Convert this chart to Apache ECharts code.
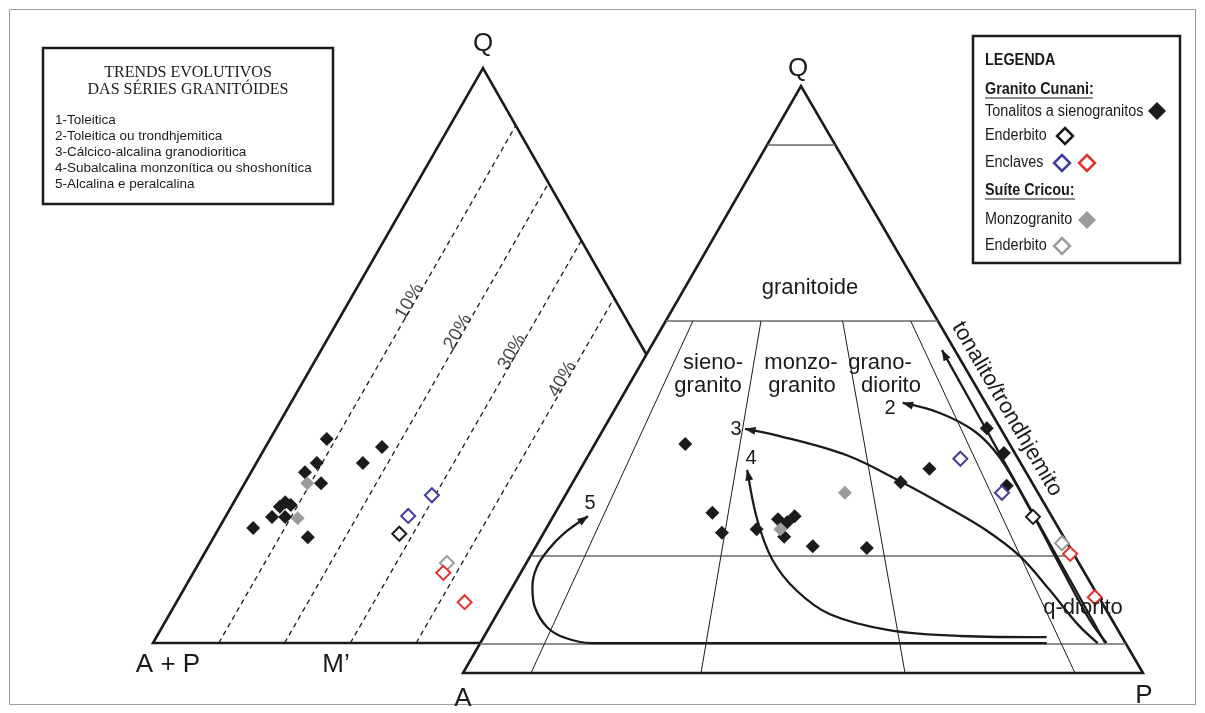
<!DOCTYPE html>
<html>
<head>
<meta charset="utf-8">
<script src="https://cdn.jsdelivr.net/npm/echarts@6/dist/echarts.min.js"></script>
<style>
  html, body { margin: 0; padding: 0; background: #fff; }
  #chart { width: 1205px; height: 713px; }
</style>
</head>
<body>
<div id="chart"></div>
<script>
// ---------- Modal compositions, QAP diagram: [Q, A, P] (%) ----------
const cunaniTonalitosQAP = [
  [39.0, 47.7, 13.3], [27.3, 49.6, 23.1], [23.9, 49.9, 26.2], [24.5, 44.5, 31.0],
  [26.2, 40.5, 33.3], [25.7, 39.4, 34.9], [26.7, 37.8, 35.5], [23.2, 41.1, 35.7],
  [21.6, 37.7, 40.7], [21.3, 29.9, 48.8], [32.5, 19.3, 48.2], [34.8, 13.9, 51.3],
  [41.7, 2.0, 56.3], [37.5, 1.6, 60.9], [31.9, 4.0, 64.1]
];
const cunaniEnderbitoQAP = [[26.6, 2.8, 70.6]];
const cunaniEnclavesBlueQAP = [[36.5, 8.5, 55.0], [30.7, 5.3, 64.0]];
const cunaniEnclavesRedQAP = [[20.3, 0.5, 79.2], [12.9, 0.6, 86.5]];
const cricouMonzogranitoQAP = [[30.7, 28.4, 40.9], [24.5, 41.0, 34.5]];
const cricouEnderbitoQAP = [[22.1, 0.8, 77.1]];

// ---------- Q - (A+P) - M' diagram: [Q, A+P, M'] (%) ----------
const cunaniTonalitosQM = [
  [35.5, 55.9, 8.6], [31.3, 59.5, 9.2], [29.7, 62.1, 8.2], [27.8, 60.6, 11.6],
  [24.5, 67.7, 7.8], [23.7, 68.9, 7.4], [24.0, 67.1, 8.9], [21.9, 71.0, 7.1],
  [21.9, 69.0, 9.1], [20.0, 74.8, 5.2], [18.4, 67.3, 14.3], [34.1, 48.2, 17.7],
  [31.3, 52.5, 16.2]
];
const cunaniEnderbitoQM = [[19.0, 53.1, 27.9]];
const cunaniEnclavesBlueQM = [[25.7, 44.8, 29.5], [22.1, 50.2, 27.7]];
const cunaniEnclavesRedQM = [[12.2, 49.8, 38.0], [7.1, 49.1, 43.8]];
const cricouMonzogranitoQM = [[27.8, 62.7, 9.5], [21.7, 67.2, 11.1]];
const cricouEnderbitoQM = [[13.9, 48.4, 37.7]];

// ---------- Field boundaries ----------
const quartzLevels = [90, 60, 20, 5];      // Q (%)
const plagRatios = [10, 35, 65, 90];       // 100*P/(A+P)
const maficLevels = [10, 20, 30, 40];      // M' (%)
const maficLabels = ['10%', '20%', '30%', '40%'];

// ---------- Evolutionary trends [Q, A, P], tail -> arrow head ----------
const trend1 = [[5.1, 3.0, 91.9], [55.0, 1.9, 43.1]];
const trend2 = [[5.1, 2.8, 92.1], [9.0, 3.3, 87.7], [18.4, 3.0, 78.6], [27.8, 2.6, 69.6],
  [36.6, 2.6, 60.8], [41.1, 4.0, 54.9], [44.3, 7.6, 48.1], [46.0, 12.2, 41.8]];
const trend3 = [[5.1, 4.1, 90.8], [8.2, 5.4, 86.4], [14.1, 6.6, 79.3], [19.9, 8.1, 72.0],
  [24.4, 10.9, 64.7], [28.3, 14.6, 57.1], [32.5, 19.1, 48.4], [37.1, 24.9, 38.0],
  [40.5, 33.5, 26.0], [41.6, 37.6, 20.8]];
const trend4 = [[6.1, 11.1, 82.8], [6.3, 23.7, 70.0], [7.3, 33.7, 59.0], [10.0, 41.0, 49.0],
  [14.1, 43.9, 42.0], [19.3, 44.8, 35.9], [26.1, 43.6, 30.3], [34.6, 40.8, 24.6]];
const trend5 = [[5.1, 11.6, 83.3], [5.1, 78.5, 16.4], [6.0, 82.0, 12.0], [7.8, 83.7, 8.5],
  [11.2, 83.8, 5.0], [14.7, 82.4, 2.9], [18.0, 80.1, 1.9], [21.0, 76.9, 2.1],
  [23.9, 73.0, 3.1], [26.7, 68.2, 5.1]];
const trendNames = ['1', '2', '3', '4', '5'];

// ---------- Layout of the two triangles (plot units = px) ----------
const RT = { A: [463, 673], P: [1143, 673], Q: [801, 86] };
const LT = { AP: [153, 643], M: [811, 643], Q: [483, 68] };
const maficLabelQ = [60.2, 54.9, 51.4, 46.7];   // where the % labels sit along each dashed line

function qap(c) {
  const s = c[0] + c[1] + c[2], q = c[0] / s, a = c[1] / s, p = c[2] / s;
  return [RT.A[0] * a + RT.P[0] * p + RT.Q[0] * q, RT.A[1] * a + RT.P[1] * p + RT.Q[1] * q];
}
function qm(c) {
  const s = c[0] + c[1] + c[2], q = c[0] / s, ap = c[1] / s, m = c[2] / s;
  return [LT.AP[0] * ap + LT.M[0] * m + LT.Q[0] * q, LT.AP[1] * ap + LT.M[1] * m + LT.Q[1] * q];
}

const INK = '#1b1b1b';
const BLUE = '#40409a';
const RED = '#e2302c';
const GREY = '#9c9c9c';

function polygonSeries(vertices, z, fill) {
  return {
    type: 'custom', z: z, silent: true, data: [[0, 0]],
    renderItem: (params, api) => ({
      type: 'polygon',
      shape: { points: vertices.map(v => api.coord(v)) },
      style: { fill: fill, stroke: INK, lineWidth: 2.6, lineJoin: 'miter' }
    })
  };
}
function segSeries(segs, z, style) {
  return {
    type: 'lines', coordinateSystem: 'cartesian2d', z: z, silent: true,
    symbol: 'none', lineStyle: Object.assign({ opacity: 1 }, style),
    data: segs.map(s => ({ coords: s }))
  };
}
function pointSeries(data, map, z, fill, stroke, size) {
  return {
    type: 'scatter', z: z, silent: true, symbol: 'diamond', symbolSize: size,
    itemStyle: { color: fill, borderColor: stroke, borderWidth: stroke ? 2 : 0, opacity: 1 },
    data: data.map(map)
  };
}
function arrowHead(trend) {
  const p1 = qap(trend[trend.length - 2]), p2 = qap(trend[trend.length - 1]);
  const dx = p2[0] - p1[0], dy = p2[1] - p1[1], len = Math.hypot(dx, dy);
  const ux = dx / len, uy = dy / len;
  return { value: [p2[0] - ux * 5, p2[1] - uy * 5], symbolRotate: Math.atan2(-ux, -uy) * 180 / Math.PI };
}

const trends = [trend1, trend2, trend3, trend4, trend5];
const series = [];

// Q-(A+P)-M' triangle with M' isolines
series.push(polygonSeries([qm([0, 100, 0]), qm([0, 0, 100]), qm([100, 0, 0])], 1, 'none'));
series.push(segSeries(maficLevels.map(m => [qm([0, 100 - m, m]), qm([100 - m, 0, m])]), 1,
  { color: INK, width: 1.3, type: [5, 4] }));
series.push({
  type: 'scatter', z: 2, silent: true, symbolSize: 0,
  label: { show: true, position: 'inside', rotate: 60, offset: [-8, -4.5], color: INK, fontSize: 19,
    fontFamily: 'Liberation Sans' },
  data: maficLevels.map((m, i) => ({
    value: qm([maficLabelQ[i], 100 - m - maficLabelQ[i], m]),
    label: { formatter: maficLabels[i] }
  }))
});

// QAP triangle (white, drawn over the left diagram)
series.push(polygonSeries([qap([0, 100, 0]), qap([0, 0, 100]), qap([100, 0, 0])], 3, '#fff'));
series.push(segSeries(quartzLevels.map(q => [qap([q, 100 - q, 0]), qap([q, 0, 100 - q])]), 4,
  { color: '#6a6a6a', width: 1.5 }));
series.push(segSeries(plagRatios.map(r => [qap([60, 0.4 * (100 - r), 0.4 * r]), qap([0, 100 - r, r])]), 4,
  { color: INK, width: 1 }));

// Trends
trends.forEach(t => {
  series.push({
    type: 'line', z: 5, silent: true, smooth: 0.35, symbol: 'none',
    lineStyle: { color: INK, width: 2.3 },
    data: t.map(qap)
  });
});
series.push({
  type: 'scatter', z: 6, silent: true, symbol: 'triangle', symbolSize: [8, 11],
  itemStyle: { color: INK, opacity: 1 },
  data: trends.map(arrowHead)
});

// Samples
series.push(pointSeries(cunaniTonalitosQAP, qap, 7, INK, null, 14));
series.push(pointSeries(cunaniTonalitosQM, qm, 7, INK, null, 14));
series.push(pointSeries(cricouMonzogranitoQAP, qap, 8, GREY, null, 14));
series.push(pointSeries(cricouMonzogranitoQM, qm, 8, GREY, null, 14));
series.push(pointSeries(cunaniEnderbitoQAP, qap, 8, '#fff', INK, 14));
series.push(pointSeries(cunaniEnderbitoQM, qm, 8, '#fff', INK, 14));
series.push(pointSeries(cunaniEnclavesBlueQAP, qap, 8, '#fff', BLUE, 14));
series.push(pointSeries(cunaniEnclavesBlueQM, qm, 8, '#fff', BLUE, 14));
series.push(pointSeries(cricouEnderbitoQAP, qap, 8, '#fff', GREY, 14));
series.push(pointSeries(cricouEnderbitoQM, qm, 8, '#fff', GREY, 14));
series.push(pointSeries(cunaniEnclavesRedQAP, qap, 9, '#fff', RED, 14));
series.push(pointSeries(cunaniEnclavesRedQM, qm, 9, '#fff', RED, 14));

// ---------- Static annotation ----------
const SANS = '"Liberation Sans", Arial, sans-serif';
function txt(x, y, text, size, opts) {
  opts = opts || {};
  return {
    type: 'text', x: x, y: y, rotation: opts.rotation || 0, scaleX: opts.scaleX || 1, z: 20,
    style: {
      text: text, fill: opts.fill || INK,
      font: (opts.bold ? 'bold ' : '') + size + 'px ' + (opts.family || SANS),
      textAlign: opts.align || 'center', textVerticalAlign: 'middle',
      align: opts.align || 'center', verticalAlign: 'middle'
    }
  };
}
function diamond(cx, cy, s, fill, stroke) {
  return {
    type: 'polygon', z: 20,
    shape: { points: [[cx, cy - s], [cx + s, cy], [cx, cy + s], [cx - s, cy]] },
    style: { fill: fill, stroke: stroke || null, lineWidth: stroke ? 2.5 : 0 }
  };
}

const graphics = [
  { type: 'rect', z: 0, shape: { x: 9.5, y: 9.5, width: 1186, height: 695 },
    style: { fill: 'none', stroke: '#9a9a9a', lineWidth: 1 } },
  // vertex labels
  txt(483, 44, 'Q', 26), txt(798, 69, 'Q', 26),
  txt(168, 665, 'A + P', 26), txt(336, 665, 'M\u2019', 26),
  txt(463, 699, 'A', 26), txt(1144, 696, 'P', 26),
  // fields
  txt(810, 288, 'granitoide', 22),
  txt(713, 363, 'sieno-', 22), txt(708, 386, 'granito', 22),
  txt(801, 363, 'monzo-', 22), txt(802, 386, 'granito', 22),
  txt(880, 363, 'grano-', 22), txt(891, 386, 'diorito', 22),
  txt(1083, 608, 'q-diorito', 22),
  txt(1007, 409, 'tonalito/trondhjemito', 22, { rotation: -59.7 * Math.PI / 180 }),
  // trend numbers
  txt(890, 408, trendNames[1], 20), txt(736, 429, trendNames[2], 20),
  txt(751, 458, trendNames[3], 20), txt(590, 503, trendNames[4], 20),
  // trends box
  { type: 'rect', z: 20, shape: { x: 43, y: 48, width: 290, height: 156 },
    style: { fill: '#fff', stroke: INK, lineWidth: 2.5 } },
  txt(188, 73, 'TRENDS EVOLUTIVOS', 16, { family: '"Liberation Serif", serif' }),
  txt(188, 90, 'DAS SÉRIES GRANITÓIDES', 16, { family: '"Liberation Serif", serif' }),
  txt(55, 120, '1-Toleitica', 13.5, { align: 'left' }),
  txt(55, 136, '2-Toleitica ou trondhjemitica', 13.5, { align: 'left' }),
  txt(55, 152, '3-Cálcico-alcalina granodioritica', 13.5, { align: 'left' }),
  txt(55, 168, '4-Subalcalina monzonítica ou shoshonítica', 13.5, { align: 'left' }),
  txt(55, 184, '5-Alcalina e peralcalina', 13.5, { align: 'left' }),
  // legend box
  { type: 'rect', z: 20, shape: { x: 973, y: 36, width: 207, height: 227 },
    style: { fill: '#fff', stroke: INK, lineWidth: 2.5 } },
  txt(985, 61, 'LEGENDA', 16, { align: 'left', bold: true, scaleX: 0.9 }),
  txt(985, 90, 'Granito Cunani:', 16, { align: 'left', bold: true, scaleX: 0.9 }),
  { type: 'line', z: 20, shape: { x1: 985, y1: 98, x2: 1093, y2: 98 }, style: { stroke: INK, lineWidth: 1.2 } },
  txt(985, 112, 'Tonalitos a sienogranitos', 16, { align: 'left', scaleX: 0.9 }),
  diamond(1157, 111, 9, INK),
  txt(985, 136, 'Enderbito', 16, { align: 'left', scaleX: 0.9 }),
  diamond(1065, 136, 8, '#fff', INK),
  txt(985, 163, 'Enclaves', 16, { align: 'left', scaleX: 0.9 }),
  diamond(1062, 163, 8, '#fff', BLUE), diamond(1087, 163, 8, '#fff', RED),
  txt(985, 191, 'Suíte Cricou:', 16, { align: 'left', bold: true, scaleX: 0.9 }),
  { type: 'line', z: 20, shape: { x1: 985, y1: 199, x2: 1075, y2: 199 }, style: { stroke: INK, lineWidth: 1.2 } },
  txt(985, 220, 'Monzogranito', 16, { align: 'left', scaleX: 0.9 }),
  diamond(1087, 220, 9, GREY),
  txt(985, 246, 'Enderbito', 16, { align: 'left', scaleX: 0.9 }),
  diamond(1062, 246, 8, '#fff', GREY)
];

const chart = echarts.init(document.getElementById('chart'));
chart.setOption({
  animation: false,
  backgroundColor: '#fff',
  grid: { left: 0, right: 0, top: 0, bottom: 0 },
  xAxis: { type: 'value', min: 0, max: 1205, show: false },
  yAxis: { type: 'value', min: 0, max: 713, inverse: true, show: false },
  graphic: graphics,
  series: series
});
</script>
</body>
</html>
